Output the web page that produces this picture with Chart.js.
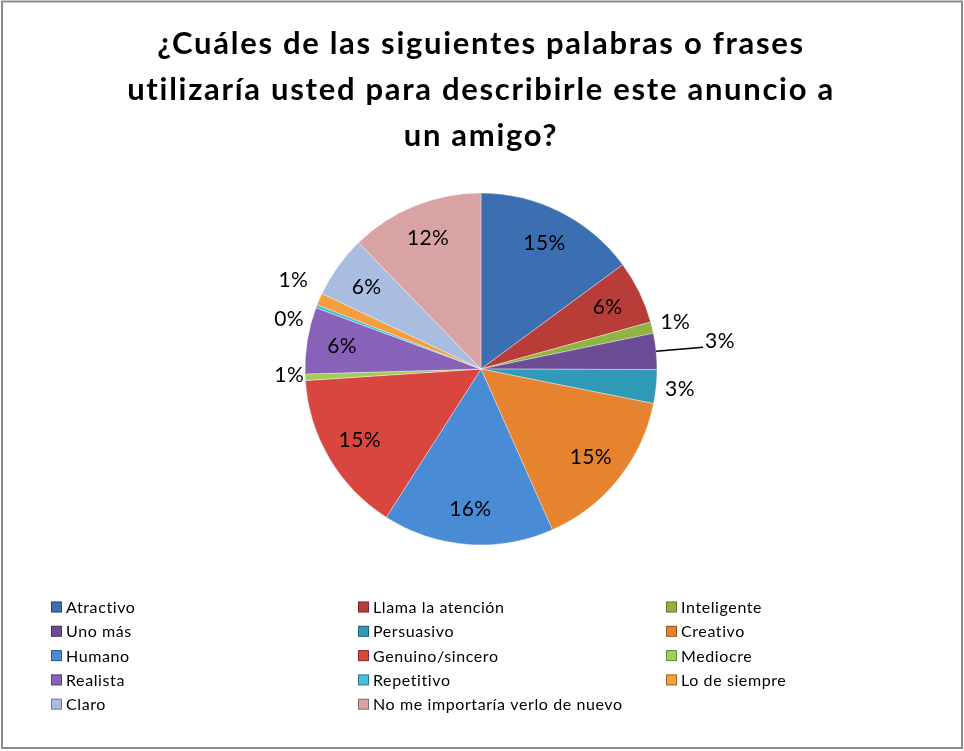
<!DOCTYPE html>
<html>
<head>
<meta charset="utf-8">
<script src="https://cdn.jsdelivr.net/npm/chart.js@4/dist/chart.umd.min.js"></script>
<style>
    html, body { margin: 0; padding: 0; background: #fff; }
    #wrap { width: 964px; height: 751px; }
</style>
</head>
<body>
<div id="wrap"><canvas id="pieChart"></canvas></div>
<script>
// ── data ─────────────────────────────────────────────────────────────────
const categories = [
    'Atractivo', 'Llama la atención', 'Inteligente',
    'Uno más', 'Persuasivo', 'Creativo',
    'Humano', 'Genuino/sincero', 'Mediocre',
    'Realista', 'Repetitivo', 'Lo de siempre',
    'Claro', 'No me importaría verlo de nuevo'
];

// share of answers, in percent
const shares = [14.9, 5.8, 1.05, 3.3, 3.1, 15.2, 15.7, 14.9, 0.6, 6.1, 0.3, 1.1, 5.7, 12.25];

const titleLines = [
    '¿Cuáles de las siguientes palabras o frases',
    'utilizaría usted para describirle este anuncio a',
    'un amigo?'
];

const sliceColors = [
    '#3b6fb2', '#b83d38', '#8fb443',
    '#6c4c94', '#2f9bb9', '#e5832f',
    '#4a8bd6', '#d9453f', '#a3cc5b',
    '#8762b8', '#45bfdd', '#f59e3d',
    '#a8bde0', '#d9a3a3'
];

// how each percent label sits: outside the pie, or with a leader line
const LABEL_PLACE = {
    2: { out: true },
    3: { leader: true },
    4: { out: true },
    8: { out: true, dx: 8, dy: -3 },
    10: { out: true, dx: -5, dy: 22 },
    11: { out: true, dx: -4, dy: -9 }
};

// Lato is a touch narrower than the Calibri in the original, so text
// gets a little letter spacing to end up the same width
const FONT = 'Lato, "Open Sans", sans-serif';

const titleSpacing = {
    id: 'titleSpacing',
    beforeDraw(chart) {
        chart.ctx.letterSpacing = '1.7px';
    },
    beforeDatasetsDraw(chart) {
        chart.ctx.letterSpacing = '0px';
    }
};

const pctLabels = {
    id: 'pctLabels',
    afterDatasetsDraw(chart) {
        const ctx = chart.ctx;
        const meta = chart.getDatasetMeta(0);
        const data = chart.data.datasets[0].data;
        const total = data.reduce((a, b) => a + b, 0);

        ctx.save();
        ctx.font = '21px ' + FONT;
        ctx.letterSpacing = '0.4px';
        ctx.fillStyle = '#000';
        ctx.strokeStyle = '#000';
        ctx.textBaseline = 'middle';

        meta.data.forEach((arc, i) => {
            const p = arc.getProps(['x', 'y', 'startAngle', 'endAngle', 'outerRadius'], true);
            const mid = (p.startAngle + p.endAngle) / 2;
            const text = Math.round(data[i] / total * 100) + '%';
            const place = LABEL_PLACE[i] || {};

            if (place.leader) {
                const ex = p.x + Math.cos(mid) * p.outerRadius;
                const ey = p.y + Math.sin(mid) * p.outerRadius;
                ctx.lineWidth = 1.5;
                ctx.beginPath();
                ctx.moveTo(ex, ey);
                ctx.lineTo(ex + 47, ey - 4);
                ctx.stroke();
                ctx.textAlign = 'left';
                ctx.fillText(text, ex + 49, ey - 10);
                return;
            }

            const r = place.out ? p.outerRadius + 24 : p.outerRadius * 0.8;
            const tx = p.x + Math.cos(mid) * r + (place.dx || 0);
            const ty = p.y + Math.sin(mid) * r + (place.dy || 0);
            ctx.textAlign = 'center';
            ctx.fillText(text, tx, ty);
        });

        ctx.restore();
    }
};

// Excel-style legend: three fixed columns under the pie
const gridLegend = {
    id: 'gridLegend',
    afterDraw(chart) {
        const ctx = chart.ctx;
        const colors = chart.data.datasets[0].backgroundColor;
        const colX = [51, 358, 666];
        const rowY0 = 607;
        const rowStep = 24.3;

        ctx.save();
        ctx.font = '16px ' + FONT;
        ctx.letterSpacing = '0.6px';
        ctx.textBaseline = 'middle';
        ctx.textAlign = 'left';

        chart.data.labels.forEach((label, i) => {
            const x = colX[i % 3];
            const y = rowY0 + Math.floor(i / 3) * rowStep;
            ctx.fillStyle = colors[i];
            ctx.fillRect(x, y - 5.5, 11, 11);
            ctx.strokeStyle = 'rgba(0,0,0,0.35)';
            ctx.lineWidth = 1;
            ctx.strokeRect(x + 0.5, y - 5, 10, 10);
            ctx.fillStyle = '#000';
            ctx.fillText(label, x + 15, y + 1);
        });

        // outer frame of the chart
        ctx.strokeStyle = '#8c8c8c';
        ctx.lineWidth = 2;
        ctx.strokeRect(2, 1.5, 960, 746.5);
        ctx.restore();
    }
};

new Chart(document.getElementById('pieChart'), {
    type: 'pie',
    data: {
        labels: categories,
        datasets: [{
            data: shares,
            backgroundColor: sliceColors,
            borderColor: 'rgba(255,255,255,0.35)',
            borderWidth: 1
        }]
    },
    options: {
        responsive: true,
        maintainAspectRatio: false,
        animation: false,
        radius: 176,
        layout: {
            padding: { top: 0, left: 0, right: 2, bottom: 182 }
        },
        plugins: {
            legend: { display: false },
            tooltip: { enabled: false },
            title: {
                display: true,
                text: titleLines,
                color: '#000',
                font: { family: FONT, size: 31, weight: 'bold', lineHeight: '46px' },
                padding: { top: 21, bottom: 10 }
            }
        }
    },
    plugins: [titleSpacing, pctLabels, gridLegend]
});
</script>
</body>
</html>
